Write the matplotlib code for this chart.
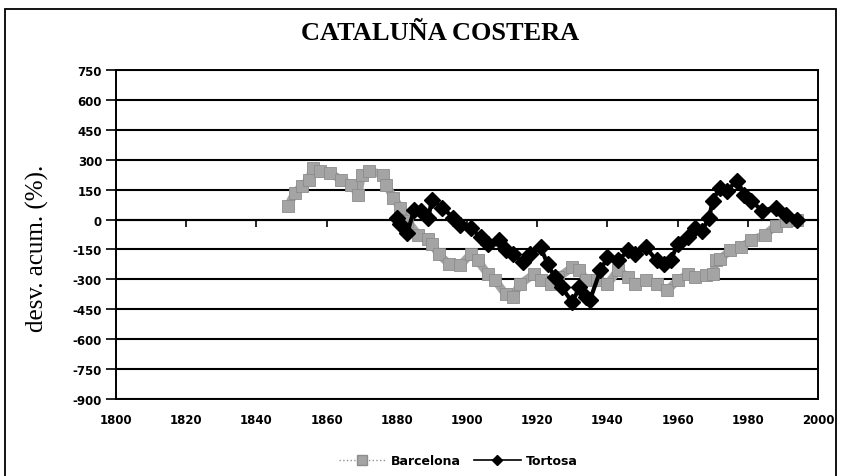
import numpy as np
import matplotlib.pyplot as plt
from matplotlib.patches import Rectangle
from matplotlib.lines import Line2D

# valores (desviacion acumulada, %)
bcn_years = [1849, 1851, 1853, 1855, 1856, 1858, 1861, 1864, 1867, 1869, 1870, 1872,
             1876, 1877, 1879, 1881, 1883, 1886, 1889, 1890, 1892, 1895, 1898, 1901,
             1903, 1906, 1908, 1911, 1913, 1915, 1919, 1921, 1924, 1926, 1930, 1932,
             1934, 1937, 1940, 1943, 1946, 1948, 1951, 1954, 1957, 1960, 1963, 1965,
             1968, 1970, 1971, 1972, 1975, 1978, 1981, 1985, 1988, 1991, 1994]
bcn_vals = [70, 135, 170, 200, 260, 245, 235, 200, 175, 125, 225, 245,
            225, 175, 110, 60, -5, -75, -100, -125, -175, -225, -230, -175,
            -205, -275, -305, -375, -390, -325, -275, -305, -325, -290, -240, -255,
            -305, -305, -325, -255, -290, -325, -305, -325, -355, -305, -275, -290,
            -280, -275, -205, -200, -155, -140, -105, -75, -30, -5, 0]

tor_years = [1880, 1881, 1883, 1885, 1887, 1889, 1890, 1893, 1896, 1898, 1901, 1904,
             1906, 1909, 1911, 1913, 1916, 1918, 1921, 1923, 1925, 1927, 1930, 1932,
             1934, 1935, 1938, 1940, 1943, 1946, 1948, 1951, 1954, 1956, 1958, 1960,
             1963, 1965, 1967, 1969, 1970, 1972, 1974, 1977, 1979, 1981, 1984, 1988,
             1991, 1994]
tor_vals = [10, -20, -65, 50, 45, 10, 100, 60, 10, -25, -40, -90,
            -125, -105, -155, -175, -215, -175, -140, -225, -290, -340, -415, -340,
            -390, -405, -255, -190, -205, -155, -175, -140, -205, -225, -205, -125,
            -90, -40, -55, 10, 95, 160, 145, 195, 125, 95, 45, 60,
            25, 0]

x_ticks = list(range(1800, 2001, 20))
y_ticks = list(range(-900, 751, 150))

W, H = 841, 477
fig = plt.figure(figsize=(W / 100, H / 100), dpi=100)
ax = fig.add_axes([116 / W, 1 - 400 / H, 702 / W, 329 / H])

gris = '#a4a4a4'
ax.plot(bcn_years, bcn_vals, color=gris, lw=6, marker='s', ms=9,
        mfc=gris, mec='#8c8c8c', mew=0.6, solid_capstyle='butt', zorder=3)
ax.plot(tor_years, tor_vals, color='black', lw=3, marker='D', ms=8, zorder=4)

ax.set_xlim(1800, 2000)
ax.set_ylim(-900, 750)
ax.set_xticks(x_ticks)
ax.set_yticks(y_ticks)
ax.yaxis.grid(True, color='black', lw=1.5)
ax.set_axisbelow(True)
for s in ax.spines.values():
    s.set_linewidth(1.4)

tfont = dict(family='DejaVu Sans', weight='bold', size=8.5)
ax.set_xticklabels([str(v) for v in x_ticks], **tfont)
ax.set_yticklabels([str(v) for v in y_ticks], **tfont)
ax.tick_params(axis='x', length=0, pad=10)
ax.tick_params(axis='y', direction='out', length=7, width=1.2, pad=3)

# eje de categorias cruzando en 0
sec = ax.secondary_xaxis(900 / 1650)
sec.set_alignment('bottom')
sec.set_xticks(x_ticks)
sec.set_xticklabels([])
sec.tick_params(direction='out', length=5, width=1.2, labelbottom=False, labeltop=False)
for s in sec.spines.values():
    s.set_linewidth(1.5)

fig.text(0.523, 1 - 33 / H, 'CATALUÑA COSTERA', ha='center', va='center',
         family='Liberation Serif', weight='bold', size=19)
fig.text(0.045, 1 - 248 / H, 'desv. acum. (%).', ha='center', va='center',
         rotation=90, family='Liberation Serif', size=18)

handles = [Line2D([], [], color='#909090', lw=1, ls=':', marker='s', ms=7,
                  mfc=gris, mec='#8c8c8c'),
           Line2D([], [], color='black', lw=1.2, marker='D', ms=5.5)]
fig.legend(handles, ['Barcelona', 'Tortosa'], loc='center',
           bbox_to_anchor=(0.545, 1 - 462 / H), ncol=2, frameon=False,
           prop=dict(family='DejaVu Sans', weight='bold', size=9),
           handlelength=3.8, columnspacing=1.0, handletextpad=0.4)

fig.patches.append(Rectangle((5 / W, -0.05), 831 / W, 1.05 - 10 / H, transform=fig.transFigure,
                             fill=False, ec='black', lw=1.3))

fig.savefig('out.png', dpi=100)
